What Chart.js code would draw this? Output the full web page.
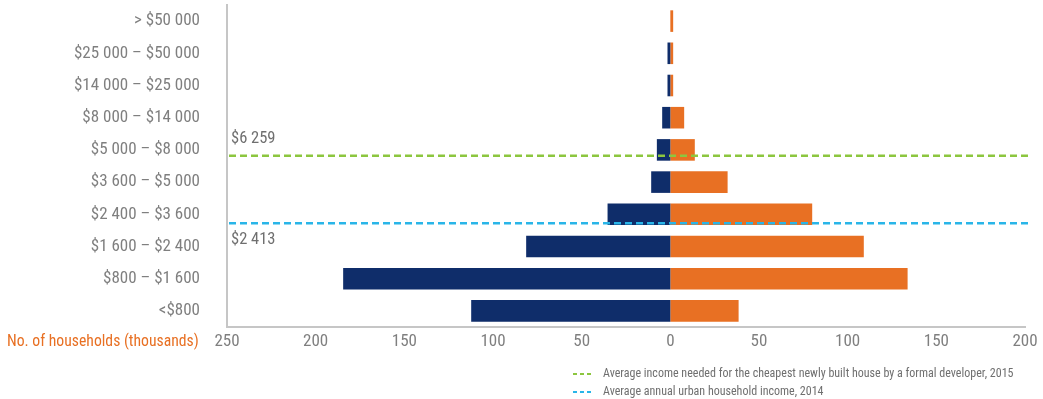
<!DOCTYPE html>
<html>
<head>
<meta charset="utf-8">
<script src="https://cdn.jsdelivr.net/npm/chart.js@4.4.1/dist/chart.umd.min.js"></script>
<style>
  html, body { margin: 0; padding: 0; background: #ffffff; }
  #wrap { width: 1043px; height: 399px; position: relative; }
</style>
</head>
<body>
<div id="wrap"><canvas id="chart"></canvas></div>
<script>
// Income bands, highest at the top
const categories = [
  '> $50 000',
  '$25 000 – $50 000',
  '$14 000 – $25 000',
  '$8 000 – $14 000',
  '$5 000 – $8 000',
  '$3 600 – $5 000',
  '$2 400 – $3 600',
  '$1 600 – $2 400',
  '$800 – $1 600',
  '<$800'
];

// Households (thousands) drawn to the left of zero
const leftHouseholds = [0, 1.6, 1.6, 4.6, 7.6, 10.8, 35.4, 81.3, 184.5, 112.3];
// Households (thousands) drawn to the right of zero
const rightHouseholds = [1.6, 1.6, 1.6, 7.8, 13.8, 32.3, 80, 109.1, 133.8, 38.5];

// Value axis
const xMin = -250;
const xMax = 200;
const xStep = 50;

// Reference income lines, placed on the income-band axis
const refLabels = ['$6 259', '$2 413'];
const refBandPos = [4.18, 6.28];
const refColors = ['#8cc63f', '#29b5e8'];
const refLegend = [
  'Average income needed for the cheapest newly built house by a formal developer, 2015',
  'Average annual urban household income, 2014'
];

const axisTitle = 'No. of households (thousands)';

const FONT = "'Liberation Sans Narrow', 'Arial Narrow', 'Roboto Condensed', 'Liberation Sans', sans-serif";
const NAVY = '#0f2d6a';
const ORANGE = '#e87023';
const GREY_TEXT = '#7f7f7f';
const AXIS_LINE = '#c6c6c6';

const refLinesPlugin = {
  id: 'refLines',
  afterDatasetsDraw(chart) {
    const { ctx, chartArea, scales } = chart;
    const y = scales.y;
    ctx.save();
    refBandPos.forEach((pos, i) => {
      const py = y.getPixelForValue(pos);
      ctx.beginPath();
      ctx.setLineDash([7, 4]);
      ctx.lineWidth = 2.5;
      ctx.strokeStyle = refColors[i];
      ctx.moveTo(chartArea.left + 2, py);
      ctx.lineTo(chartArea.right + 3, py);
      ctx.stroke();

      ctx.setLineDash([]);
      ctx.fillStyle = '#6f6f6f';
      ctx.font = '16.5px ' + FONT;
      ctx.textAlign = 'left';
      ctx.textBaseline = 'middle';
      if (i === 0) {
        ctx.fillText(refLabels[i], chartArea.left + 4, py - 17);
      } else {
        ctx.fillText(refLabels[i], chartArea.left + 4, py + 17);
      }
    });
    ctx.restore();
  },
  afterDraw(chart) {
    const { ctx, scales } = chart;
    const x = scales.x;
    ctx.save();
    // Axis title on the tick row, left of the plot
    ctx.font = '15.7px ' + FONT;
    ctx.fillStyle = ORANGE;
    ctx.textAlign = 'left';
    ctx.textBaseline = 'middle';
    ctx.fillText(axisTitle, 7, x.top + 15);

    // Legend for the reference lines
    const lx = 573;
    const ly = [374, 392];
    refLegend.forEach((txt, i) => {
      ctx.beginPath();
      ctx.setLineDash([4, 3]);
      ctx.lineWidth = 2;
      ctx.strokeStyle = refColors[i];
      ctx.moveTo(lx, ly[i]);
      ctx.lineTo(lx + 20, ly[i]);
      ctx.stroke();
      ctx.setLineDash([]);
      ctx.fillStyle = '#6f6f6f';
      ctx.font = '12px ' + FONT;
      ctx.textBaseline = 'middle';
      ctx.fillText(txt, lx + 30, ly[i]);
    });
    ctx.restore();
  }
};

new Chart(document.getElementById('chart'), {
  type: 'bar',
  data: {
    labels: categories,
    datasets: [
      {
        label: 'Left',
        data: leftHouseholds.map(v => -v),
        backgroundColor: NAVY,
        borderWidth: 0,
        barPercentage: 0.67,
        categoryPercentage: 1
      },
      {
        label: 'Right',
        data: rightHouseholds,
        backgroundColor: ORANGE,
        borderWidth: 0,
        barPercentage: 0.67,
        categoryPercentage: 1
      }
    ]
  },
  options: {
    indexAxis: 'y',
    responsive: true,
    maintainAspectRatio: false,
    animation: false,
    layout: { padding: { top: 5, right: 18, bottom: 0, left: 0 } },
    plugins: {
      legend: { display: false },
      tooltip: { enabled: false }
    },
    scales: {
      x: {
        stacked: true,
        min: xMin,
        max: xMax,
        afterFit(scale) { scale.height = 72; },
        grid: { display: false, drawTicks: false },
        border: { display: true, color: AXIS_LINE, width: 2 },
        ticks: {
          stepSize: xStep,
          padding: 5,
          color: GREY_TEXT,
          font: { family: FONT, size: 17 },
          callback: v => Math.abs(v)
        }
      },
      y: {
        stacked: true,
        afterFit(scale) {
          scale.width = 227;
          scale.paddingTop = 0;
          scale.paddingBottom = 0;
        },
        grid: { display: false, drawTicks: false },
        border: { display: true, color: AXIS_LINE, width: 2 },
        ticks: {
          padding: 27,
          color: GREY_TEXT,
          font: { family: FONT, size: 17 }
        }
      }
    }
  },
  plugins: [refLinesPlugin]
});
</script>
</body>
</html>
